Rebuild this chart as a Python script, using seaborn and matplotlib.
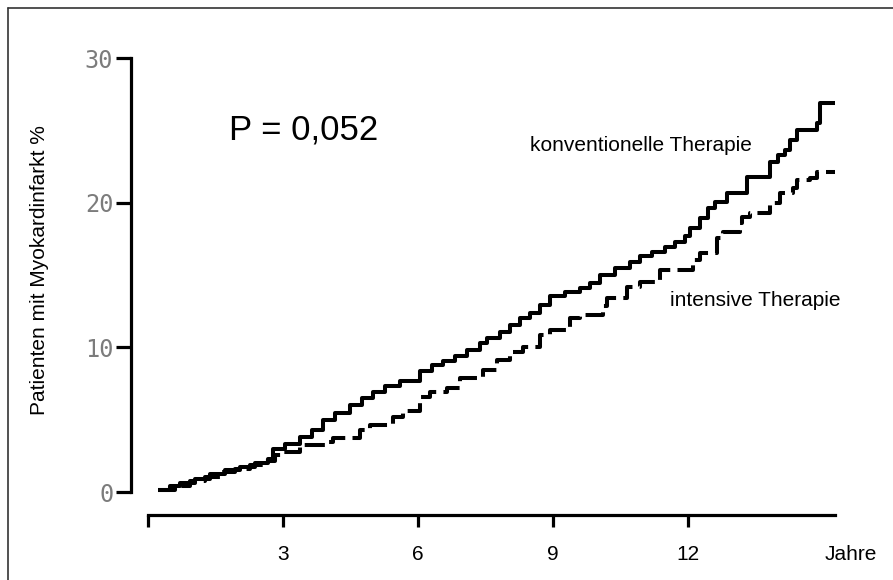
import numpy as np
import pandas as pd
import matplotlib
matplotlib.use("Agg")
import matplotlib.pyplot as plt
import seaborn as sns
from matplotlib.lines import Line2D

# ---- data (years, cumulative % with myocardial infarction) ----
conv_years = [0.22, 0.49, 0.71, 1.04, 1.38, 1.71, 2.04, 2.38, 2.67, 2.78, 3.04, 3.38,
              3.64, 3.89, 4.16, 4.49, 4.76, 5.00, 5.27, 5.60, 6.04, 6.31, 6.56, 6.82,
              7.09, 7.38, 7.53, 7.82, 8.04, 8.27, 8.49, 8.71, 8.93, 9.27, 9.60, 9.82,
              10.04, 10.38, 10.71, 10.93, 11.20, 11.49, 11.71, 11.93, 12.04, 12.27,
              12.44, 12.60, 12.87, 13.31, 13.82, 14.00, 14.16, 14.27, 14.42, 14.87,
              14.93, 15.27]
conv_pct = [0.14, 0.41, 0.62, 0.90, 1.24, 1.52, 1.73, 2.00, 2.28, 2.97, 3.32, 3.80,
            4.28, 4.98, 5.46, 6.01, 6.50, 6.91, 7.33, 7.67, 8.36, 8.78, 9.05, 9.40,
            9.81, 10.30, 10.64, 11.06, 11.54, 12.02, 12.37, 12.92, 13.55, 13.82, 14.10,
            14.44, 15.00, 15.48, 15.89, 16.31, 16.59, 16.93, 17.28, 17.69, 18.24, 18.94,
            19.63, 20.04, 20.66, 21.77, 22.81, 23.29, 23.64, 24.33, 25.02, 25.50,
            26.88, 26.88]

int_years = [0.22, 0.60, 0.93, 1.27, 1.60, 1.93, 2.27, 2.60, 2.82, 3.00, 3.38, 3.98,
             4.11, 4.71, 4.93, 5.44, 5.67, 6.04, 6.27, 6.64, 6.93, 7.44, 7.76, 8.04,
             8.33, 8.71, 8.93, 9.38, 9.60, 10.11, 10.20, 10.64, 10.93, 11.38, 12.11,
             12.27, 12.64, 12.78, 13.16, 13.20, 13.38, 13.82, 14.04, 14.33, 14.42,
             14.71, 14.87, 15.27]
int_pct = [0.14, 0.41, 0.76, 1.04, 1.38, 1.59, 1.87, 2.14, 2.56, 2.76, 3.25, 3.46,
           3.73, 4.28, 4.63, 5.18, 5.60, 6.57, 6.91, 7.19, 7.88, 8.43, 9.12, 9.68,
           10.02, 10.85, 11.20, 12.02, 12.23, 12.85, 13.41, 14.17, 14.51, 15.34, 16.03,
           16.52, 17.55, 17.97, 18.59, 19.00, 19.28, 19.97, 20.66, 21.01, 21.56,
           21.70, 22.11, 22.11]

x_ticks = [0, 3, 6, 9, 12]
x_ticklabels = ["", "3", "6", "9", "12"]
y_ticks = [0, 10, 20, 30]
y_ticklabels = ["0", "10", "20", "30"]

sns.set_style("white")
plt.rcParams["font.family"] = ["Liberation Sans", "DejaVu Sans"]
plt.rcParams["text.color"] = "black"

W, H = 893, 580
fig = plt.figure(figsize=(W / 100, H / 100), dpi=100)
ax = fig.add_axes([148 / W, 88 / H, (835 - 148) / W, 434 / H])
ax.set_facecolor("none")

df_c = pd.DataFrame({"Jahre": conv_years, "Prozent": conv_pct})
df_i = pd.DataFrame({"Jahre": int_years, "Prozent": int_pct})

sns.lineplot(data=df_c, x="Jahre", y="Prozent", ax=ax, color="black",
             linewidth=2.9, drawstyle="steps-post", estimator=None, sort=False,
             solid_capstyle="butt", clip_on=False)
sns.lineplot(data=df_i, x="Jahre", y="Prozent", ax=ax, color="black",
             linewidth=2.9, drawstyle="steps-post", estimator=None, sort=False,
             dashes=False, clip_on=False)
ax.lines[-1].set_dashes((5, 1.8))
ax.lines[-1].set_dash_capstyle("butt")

ax.set_xlim(0, (835 - 148) / 45)
ax.set_ylim(0, 30)

for s in ["top", "right"]:
    ax.spines[s].set_visible(False)
ax.spines["left"].set_position(("outward", 12.2))
ax.spines["bottom"].set_position(("outward", 16.6))
ax.spines["left"].set_bounds(0, 30)
ax.spines["bottom"].set_bounds(0, (835 - 148) / 45)
for s in ["left", "bottom"]:
    ax.spines[s].set_linewidth(2.3)
    ax.spines[s].set_color("black")

ax.set_xticks(x_ticks)
ax.set_xticklabels(x_ticklabels, fontsize=15, color="black")
ax.set_yticks(y_ticks)
ax.set_yticklabels(y_ticklabels, fontsize=17, family="DejaVu Sans Mono", color="#7c7c7c")
ax.tick_params(axis="x", bottom=True, direction="out", length=8.6, width=2.3, pad=13,
               color="black", labelcolor="black")
ax.tick_params(axis="y", left=True, direction="out", length=10.8, width=2.3, pad=2,
               color="black", labelcolor="#7c7c7c")
ax.set_xlabel("")
ax.set_ylabel("")

fig.text(851 / W, 1 - 555 / H, "Jahre", fontsize=15, ha="center", va="center")
fig.text(40 / W, 1 - 270 / H, "Patienten mit Myokardinfarkt %", fontsize=15,
         rotation=90, ha="center", va="center")
fig.text(304 / W, 1 - 130 / H, "P = 0,052", fontsize=25, ha="center", va="center")
fig.text(530 / W, 1 - 146 / H, "konventionelle Therapie", fontsize=15, ha="left", va="center")
fig.text(670 / W, 1 - 300 / H, "intensive Therapie", fontsize=15, ha="left", va="center")

# outer frame
fig.add_artist(Line2D([7.5 / W, 7.5 / W], [0, 1 - 7.5 / H], color="#333333", lw=1.2,
                      transform=fig.transFigure))
fig.add_artist(Line2D([7.5 / W, 1], [1 - 7.5 / H, 1 - 7.5 / H], color="#333333", lw=1.2,
                      transform=fig.transFigure))

fig.savefig("out.png", dpi=100)
